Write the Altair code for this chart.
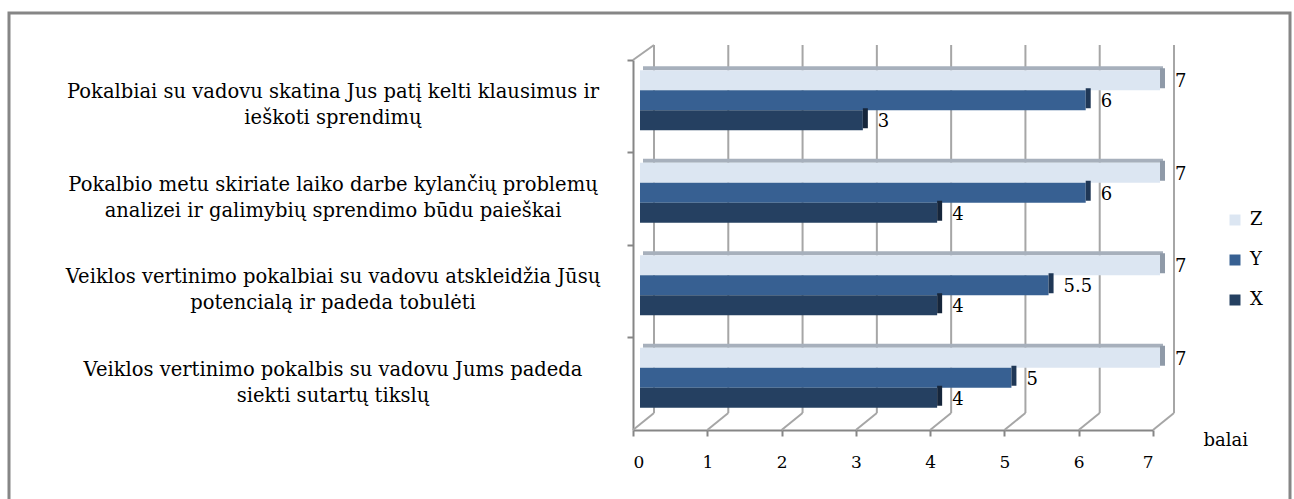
import altair as alt
import pandas as pd

# Survey statements (line breaks mark where each label wraps)
categories = [
    "Pokalbiai su vadovu skatina Jus patį kelti klausimus ir\nieškoti sprendimų",
    "Pokalbio metu skiriate laiko darbe kylančių problemų\nanalizei ir galimybių sprendimo būdu paieškai",
    "Veiklos vertinimo pokalbiai su vadovu atskleidžia Jūsų\npotencialą ir padeda tobulėti",
    "Veiklos vertinimo pokalbis su vadovu Jums padeda\nsiekti sutartų tikslų",
]
series = ["Z", "Y", "X"]
z_values = [7, 7, 7, 7]
y_values = [6, 6, 5.5, 5]
x_values = [3, 4, 4, 4]
ticks = [0, 1, 2, 3, 4, 5, 6, 7]

front_colors = ["#dce6f2", "#376092", "#254061"]
cap_colors = ["#8f9aa8", "#1f3756", "#16263b"]

values_by_series = {"Z": z_values, "Y": y_values, "X": x_values}
rows = []
for s in series:
    for c, v in zip(categories, values_by_series[s]):
        rows.append({"category": c, "series": s, "value": v})
df = pd.DataFrame(rows)
tick_df = pd.DataFrame({"tick": ticks})

W, H = 520, 370
SERIF = "DejaVu Serif"
GRID = "#a6a6a6"
FRAME = "#868686"

x_axis = alt.Axis(
    values=ticks, grid=False, domainColor=FRAME, domainWidth=2,
    tickColor=FRAME, tickWidth=2, tickSize=6, labelFont=SERIF,
    labelFontSize=17, labelColor="#000000", labelPadding=18,
    title="balai", titleFont=SERIF, titleFontSize=18, titleFontWeight="normal",
    titleColor="#000000", titleX=570, titleY=10, titleAlign="left",
    titleBaseline="middle", titleAngle=0,
)
y_axis = alt.Axis(
    labels=False, title=None, grid=False, domainColor=FRAME, domainWidth=2,
    tickColor=FRAME, tickWidth=2, tickSize=6, bandPosition=0,
)
x_scale = alt.Scale(domain=[0, 7], nice=False, zero=True)
y_scale = alt.Scale(domain=categories, paddingInner=0, paddingOuter=0)

def xq(field):
    return alt.X(field, scale=x_scale, axis=x_axis)

def xq2(field):
    return alt.X2(field)

y_enc = alt.Y("category:N", scale=y_scale, axis=y_axis, sort=categories)

color_enc = alt.Color(
    "series:N",
    scale=alt.Scale(domain=series, range=front_colors),
    legend=alt.Legend(
        title=None, orient="none", legendX=593, legendY=151,
        symbolType="square", symbolSize=121, symbolStrokeWidth=0,
        labelFont=SERIF, labelFontSize=18, labelColor="#000000",
        rowPadding=22, labelOffset=6, padding=0,
    ),
)

# Outer frame around the whole figure
frame = alt.Chart(pd.DataFrame({"f": [0]})).mark_rect(
    fill=None, stroke=FRAME, strokeWidth=3
).encode(
    x=alt.value(-624), x2=alt.value(657), y=alt.value(-47), y2=alt.value(520)
)

# Back wall gridlines (depth shifted up and right)
back_grid = alt.Chart(tick_df).mark_rule(
    color=GRID, strokeWidth=2, xOffset=21, yOffset=-15, y2Offset=-17
).encode(x=xq("tick:Q"), y=alt.value(0), y2=alt.value(H))

# Floor lines running from the front axis to the back wall
floor = alt.Chart(tick_df).mark_rule(
    color=GRID, strokeWidth=2, x2Offset=21
).encode(x=xq("tick:Q"), x2=xq2("tick:Q"), y=alt.value(H), y2=alt.value(H - 17))

# Left wall top edge
left_top = alt.Chart(tick_df[tick_df["tick"] == 0]).mark_rule(
    color=GRID, strokeWidth=2, x2Offset=21
).encode(x=xq("tick:Q"), x2=xq2("tick:Q"), y=alt.value(0), y2=alt.value(-15))

layers = [frame, back_grid, floor, left_top]

for j, s in enumerate(series):
    sub = df[df["series"] == s]
    off = -26 + 20 * j
    if j == 0:
        top_face = alt.Chart(sub).mark_bar(
            height=4, yOffset=off - 12, xOffset=10, x2Offset=10, color="#a7b0bc"
        ).encode(x=xq("value:Q"), y=y_enc)
        layers.append(top_face)
    front = alt.Chart(sub).mark_bar(
        height=20, yOffset=off, xOffset=7, x2Offset=7
    ).encode(x=xq("value:Q"), y=y_enc, color=color_enc)
    cap = alt.Chart(sub).mark_bar(
        height=20, yOffset=off - 2, xOffset=7, x2Offset=12, color=cap_colors[j]
    ).encode(x=xq("value:Q"), x2=xq2("value:Q"), y=y_enc)
    label = alt.Chart(sub).mark_text(
        align="left", baseline="middle", dx=22, dy=off + 2,
        font=SERIF, fontSize=18, color="#000000"
    ).encode(x=xq("value:Q"), y=y_enc, text=alt.Text("value:Q"))
    layers += [front, cap, label]

# Statement labels to the left of the plot (first line sits half a line above centre)
cat_labels = alt.Chart(pd.DataFrame({"category": categories})).mark_text(
    align="center", baseline="middle", lineBreak="\n", lineHeight=26,
    font=SERIF, fontSize=19.5, color="#000000", dy=-14
).encode(x=alt.value(-300), y=y_enc, text="category:N")
layers.append(cat_labels)

chart = alt.layer(*layers).properties(
    width=W, height=H,
    autosize=alt.AutoSizeParams(type="none"),
    padding={"left": 633, "top": 60, "right": 141, "bottom": 69},
    background="#ffffff",
).configure_view(
    stroke=None
).configure_axis(
    labelFont=SERIF, titleFont=SERIF
).configure_text(
    font=SERIF
)

chart.save("out.html", embed_options={"renderer": "svg", "actions": False})
